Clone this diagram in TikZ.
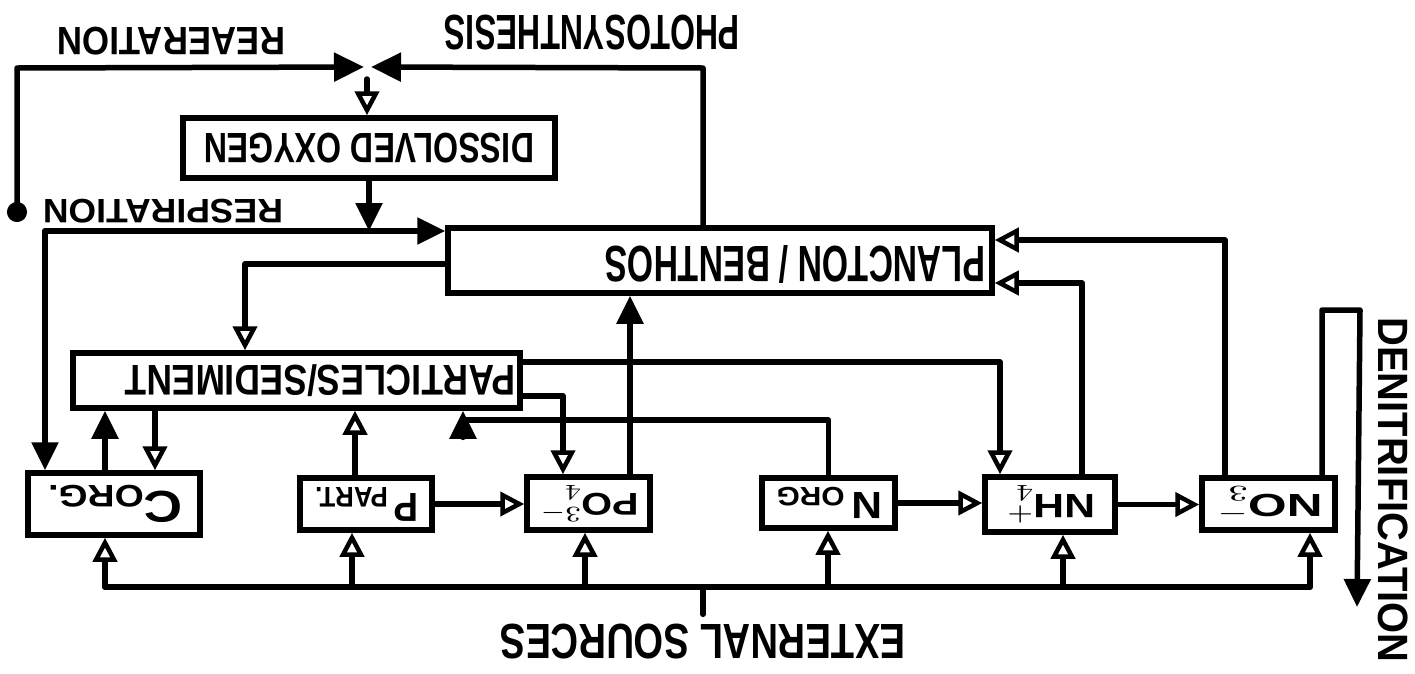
\documentclass[tikz,border=0pt]{standalone}
\usepackage{fontspec}
\setmainfont{Liberation Sans}
\usepackage{graphicx}
\usetikzlibrary{arrows.meta}
\newcommand{\ud}[3]{\rotatebox{180}{\resizebox*{#1pt}{#2pt}{\bfseries #3}}}
\newcommand{\vt}[3]{\rotatebox{-90}{\resizebox*{#1pt}{#2pt}{\bfseries #3}}}
\begin{document}
\begin{tikzpicture}[x=1pt,y=-1pt,
  ln/.style={line width=5.5pt, line join=round, line cap=round},
  op/.style={ln, -{Triangle[open,length=24pt,width=24pt,line width=4.5pt]}},
  fl/.style={ln, -{Triangle[length=28pt,width=26pt]}},
  box/.style={draw, line width=5.5pt, inner sep=0pt, fill=white},
  txt/.style={inner sep=0pt}]
\useasboundingbox (0,0) rectangle (1415,673);
% boxes
\node[box, minimum width=372pt, minimum height=60pt] (do) at (369,148) {\ud{330}{30}{DISSOLVED OXYGEN}};
\node[box, minimum width=544pt, minimum height=65pt] (plan) at (720,260.5) {};
\node[txt] (plant) at (795,264) {\ud{380}{38}{PLANCTON / BENTHOS}};
\node[box, minimum width=447pt, minimum height=55pt] (part) at (296.5,380.5) {};
\node[txt] (partt) at (320,381) {\ud{390}{32}{PARTICLES/SEDIMENT}};
\node[box, minimum width=172pt, minimum height=62pt] (corg) at (114,504) {\ud{137}{38}{C\textsubscript{ORG.}}};
\node[box, minimum width=132pt, minimum height=52pt] (ppart) at (366,504) {\ud{105}{34}{P\,\textsubscript{PART.}}};
\node[box, minimum width=123pt, minimum height=53pt] (po4) at (588.5,503.5) {\ud{100}{36}{PO$_4^{3-}$}};
\node[box, minimum width=133pt, minimum height=50pt] (norg) at (828.5,503) {\ud{108}{32}{N\,\textsubscript{ORG}}};
\node[box, minimum width=130pt, minimum height=55pt] (nh4) at (1050,504.5) {\ud{90}{38}{NH$_4^{+}$}};
\node[box, minimum width=133pt, minimum height=52pt] (no3) at (1268.5,504) {\ud{108}{36}{NO$_3^{-}$}};
% labels
\node[txt] (rea) at (171,41) {\ud{228}{28}{REAERATION}};
\node[txt] (pho) at (592,33) {\ud{295}{35}{PHOTOSYNTHESIS}};
\node[txt] (res) at (163,211) {\ud{240}{24}{RESPIRATION}};
\node[txt] (ext) at (703,642) {\ud{405}{35}{EXTERNAL SOURCES}};
\node[txt] (den) at (1393,490) {\vt{345}{30}{DENITRIFICATION}};
% coordinates
\coordinate (J) at (367,67);
\coordinate (Jl) at (364,67);
\coordinate (Jr) at (371,67);
\coordinate (rt) at (17,222);
\coordinate (rc) at (17,68);
\coordinate (pc) at (703,68);
\coordinate (R) at (45,231);
\coordinate (pp) at (245,264);
\coordinate (pn) at (1000,362);
\coordinate (pq) at (563,396);
\coordinate (nq) at (463,420);
\coordinate (pa) at (355,440);
\coordinate (c1) at (105,440);
\coordinate (c2) at (155,440);
\coordinate (pu) at (630,400);
\coordinate (nu) at (1082,283);
\coordinate (no) at (1225,240);
\coordinate (d1) at (1322,310);
\coordinate (d2) at (1360,310);
\coordinate (d3) at (1357,607);
\coordinate (b1) at (105,587);
\coordinate (b2) at (352,587);
\coordinate (b3) at (585,587);
\coordinate (b4) at (828,587);
\coordinate (b5) at (1063,587);
\coordinate (b6) at (1310,587);
% oxygen
\draw[ln, {Circle[length=20pt]}-{Triangle[length=30pt,width=28pt]}] (rt) -- (rc) -- (Jl);
\draw[ln, -{Triangle[length=30pt,width=28pt]}] (plan.north -| pc) -- (pc) -- (Jr);
\draw[op] ([yshift=-12pt]J) -- (J |- do.north);
\draw[fl] (do.south) -- (do.south |- R);
\draw[fl] (R) -- (plan.west |- R);
\draw[fl] (R) -- (R |- corg.north);
% particles
\draw[op] (plan.west |- pp) -- (pp) -- (pp |- part.north);
\draw[op] (part.east |- pn) -- (pn) -- (pn |- nh4.north);
\draw[op] (part.east |- pq) -- (pq) -- (pq |- po4.north);
\draw[fl] (norg.north) -- (norg.north |- nq) -- (nq) -- (nq |- part.south);
\draw[op] (pa |- ppart.north) -- (pa |- part.south);
\draw[fl] (c1 |- corg.north) -- (c1 |- part.south);
\draw[op] (c2 |- part.south) -- (c2 |- corg.north);
\draw[fl] (pu |- po4.north) -- (pu |- plan.south);
% row
\draw[op] (ppart.east) -- (po4.west |- ppart.east);
\draw[op] (norg.east) -- (nh4.west |- norg.east);
\draw[op] (nh4.east) -- (no3.west |- nh4.east);
% nutrients to plankton
\draw[op] (nu |- nh4.north) -- (nu) -- (plan.east |- nu);
\draw[op] (no |- no3.north) -- (no) -- (plan.east |- no);
\draw[fl] (d1 |- no3.north) -- (d1) -- (d2) -- (d3);
% external sources
\draw[ln] (b1) -- (b6);
\draw[ln, shorten <=10pt] (ext.north) -- (ext.north |- b1);
\draw[op] (b1) -- (b1 |- corg.south);
\draw[op] (b2) -- (b2 |- ppart.south);
\draw[op] (b3) -- (b3 |- po4.south);
\draw[op] (b4) -- (b4 |- norg.south);
\draw[op] (b5) -- (b5 |- nh4.south);
\draw[op] (b6) -- (b6 |- no3.south);
\end{tikzpicture}
\end{document}
